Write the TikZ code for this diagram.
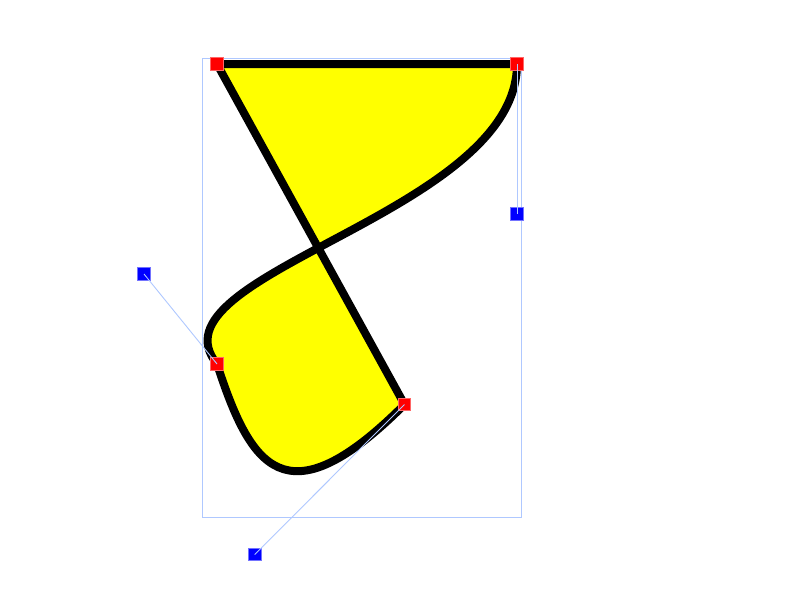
\documentclass[tikz,border=0pt]{standalone}
\usepackage{tikz}

\definecolor{fillyellow}{RGB}{255,255,0}
\definecolor{handleblue}{RGB}{175,200,255}
\tikzset{
    anchorpt/.style={draw=red!60,fill=red,line width=0.8pt,minimum size=12.5pt,inner sep=0pt},
    ctrlpt/.style={draw=blue!55,fill=blue,line width=0.8pt,minimum size=12.5pt,inner sep=0pt},
    handle/.style={draw=handleblue,line width=0.9pt},
}

\begin{document}
\begin{tikzpicture}[x=1pt,y=-1pt]
            \useasboundingbox (0,0) rectangle (800,600);
            \coordinate (p1) at (217,64);
            \coordinate (p2) at (517,64);
            \coordinate (p3) at (217,364);
            \coordinate (p4) at (404.5,404.5);
            \coordinate (c1) at (517,214);
            \coordinate (c2) at (144,274);
            \coordinate (c4) at (254.7,554.5);
            \draw[handle] (202.7,58.7) rectangle (521.7,517.3);
            \draw[line width=8pt,fill=fillyellow,line join=round] (p1) -- (p2)
                .. controls (c1) and (c2) .. (p3)
                .. controls (250,465) and (284.5,524.5) .. (p4) -- cycle;
            \node[anchorpt] (a1) at (p1) {};
            \node[anchorpt] (a2) at (p2) {};
            \node[anchorpt] (a3) at (p3) {};
            \node[anchorpt] (a4) at (p4) {};
            \node[ctrlpt] (k1) at (c1) {};
            \node[ctrlpt] (k2) at (c2) {};
            \node[ctrlpt] (k4) at (c4) {};
            \draw[handle] (a2.center) -- (k1.center);
            \draw[handle] (k2.center) -- (a3.center);
            \draw[handle] (k4.center) -- (a4.center);
        \end{tikzpicture}
\end{document}
